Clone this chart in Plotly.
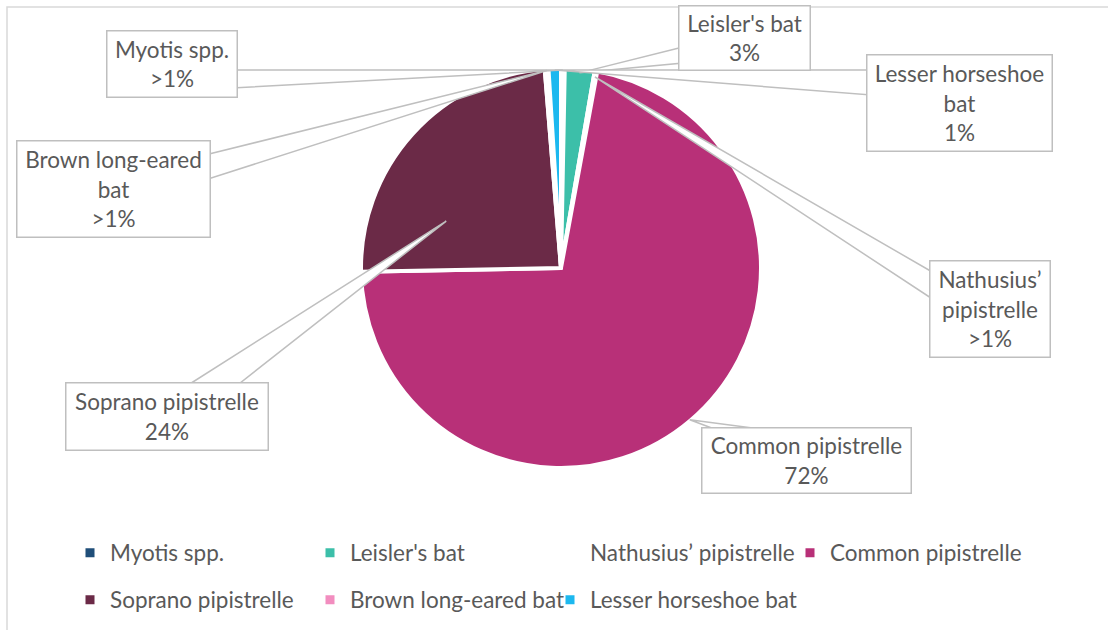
import math
import plotly.graph_objects as go

# ---------------- data ----------------
species = ["Myotis spp.", "Leisler's bat", "Nathusius\u2019 pipistrelle", "Common pipistrelle",
           "Soprano pipistrelle", "Brown long-eared bat", "Lesser horseshoe bat"]
share_pct = [0.3, 2.4, 0.2, 71.8, 24.0, 0.3, 1.0]
pct_labels = [">1%", "3%", ">1%", "72%", "24%", ">1%", "1%"]
callout_names = ["Myotis spp.", "Leisler's bat", "Nathusius\u2019<br>pipistrelle", "Common pipistrelle",
                 "Soprano pipistrelle", "Brown long-eared<br>bat", "Lesser horseshoe<br>bat"]
colors = ["#1F4E79", "#3CBFA9", "#FFFFFF", "#B83078", "#6B2A47", "#F28DBF", "#1CB8EF"]

# ---------------- layout helpers (pixels -> paper) ----------------
W, H = 1108, 630
def px(x): return x / W
def py(y): return 1 - y / H

CX, CY, R = 561, 268, 200
TEXT = "#595959"
LINE = "#BFBFBF"
FONT = "Lato"
FS = 22.5

# legend grid: 4 columns, rows at these pixel heights
LEG_X0, LEG_DX, LEG_COLS = 70, 240, 4
LEG_ROWS_Y = [553, 600]

# callout box geometry in px: (x0, y0, x1, y1)
boxes = [(106, 31, 237, 98), (678, 5, 810, 70), (929, 260, 1050, 357), (701, 428, 911, 494),
         (65, 382, 268, 450), (16, 140, 210, 237), (866, 55, 1052, 152)]
# wedge bases on box edge (px): two points
bases = [((232, 70), (232, 88)), ((683, 47), (683, 63)), ((934, 273), (934, 300)),
         ((725, 433), (790, 433)), ((185, 387), (235, 387)), ((205, 155), (205, 180)),
         ((871, 70), (871, 95))]
# anchor position inside slice: fraction of slice span, radius fraction
anchor_frac = [0.5, 0.5, 0.5, 0.5, 0.27, 0.5, 0.5]
anchor_rad = [0.99, 0.98, 0.97, 0.995, 0.62, 0.99, 0.99]

fig = go.Figure()

fig.add_trace(go.Pie(
    labels=species, values=share_pct, sort=False, direction="clockwise", rotation=0,
    marker=dict(colors=colors, line=dict(color="white", width=4)),
    textinfo="none", hoverinfo="label+percent", showlegend=False,
    domain=dict(x=[px(CX - R), px(CX + R)], y=[py(CY + R), py(CY - R)]),
))

# legend entries: one small legend per entry, laid out on a grid
legend_layouts = {}
for i, (name, c) in enumerate(zip(species, colors)):
    key = "legend" if i == 0 else f"legend{i + 1}"
    fig.add_trace(go.Scatter(
        x=[None], y=[None], mode="markers", name=name,
        marker=dict(symbol="square", size=9, color=c),
        legend=key, hoverinfo="skip",
    ))
    row, col = divmod(i, LEG_COLS)
    legend_layouts[key] = dict(
        x=px(LEG_X0 + col * LEG_DX), y=py(LEG_ROWS_Y[row]),
        orientation="h", xanchor="left", yanchor="middle",
        font=dict(family=FONT, size=FS, color=TEXT),
        bgcolor="rgba(0,0,0,0)", itemclick=False, itemdoubleclick=False)

# callouts
total = sum(share_pct)
cum = 0.0
shapes = []
annotations = []
for i, v in enumerate(share_pct):
    start = cum / total * 360
    span = v / total * 360
    cum += v
    theta = math.radians(start + anchor_frac[i] * span)
    ax = CX + anchor_rad[i] * R * math.sin(theta)
    ay = CY - anchor_rad[i] * R * math.cos(theta)
    (b1x, b1y), (b2x, b2y) = bases[i]
    path = (f"M {px(b1x)},{py(b1y)} L {px(ax)},{py(ay)} L {px(b2x)},{py(b2y)} Z")
    shapes.append(dict(type="path", xref="paper", yref="paper", path=path,
                       fillcolor="white", line=dict(color=LINE, width=1.5), layer="above"))
    x0, y0, x1, y1 = boxes[i]
    annotations.append(dict(
        xref="paper", yref="paper", x=px((x0 + x1) / 2), y=py((y0 + y1) / 2),
        xanchor="center", yanchor="middle", showarrow=False,
        text=f"{callout_names[i]}<br>{pct_labels[i]}", align="center",
        width=x1 - x0 - 2, height=y1 - y0 - 2, borderpad=0,
        bgcolor="white", bordercolor=LINE, borderwidth=1.5,
        font=dict(family=FONT, size=FS, color=TEXT),
    ))

# chart border
shapes.append(dict(type="rect", xref="paper", yref="paper",
                   x0=px(7), y0=py(640), x1=px(1120), y1=py(7),
                   line=dict(color="#D9D9D9", width=1.5), layer="below"))

fig.update_layout(
    width=W, height=H, margin=dict(l=0, r=0, t=0, b=0),
    paper_bgcolor="white", plot_bgcolor="white",
    xaxis=dict(visible=False), yaxis=dict(visible=False),
    shapes=shapes, annotations=annotations,
    font=dict(family=FONT, color=TEXT),
    **legend_layouts,
)

fig.write_html("out.html", config={"displayModeBar": False},
               post_script="document.body.style.margin='0';document.body.style.overflow='hidden';")
